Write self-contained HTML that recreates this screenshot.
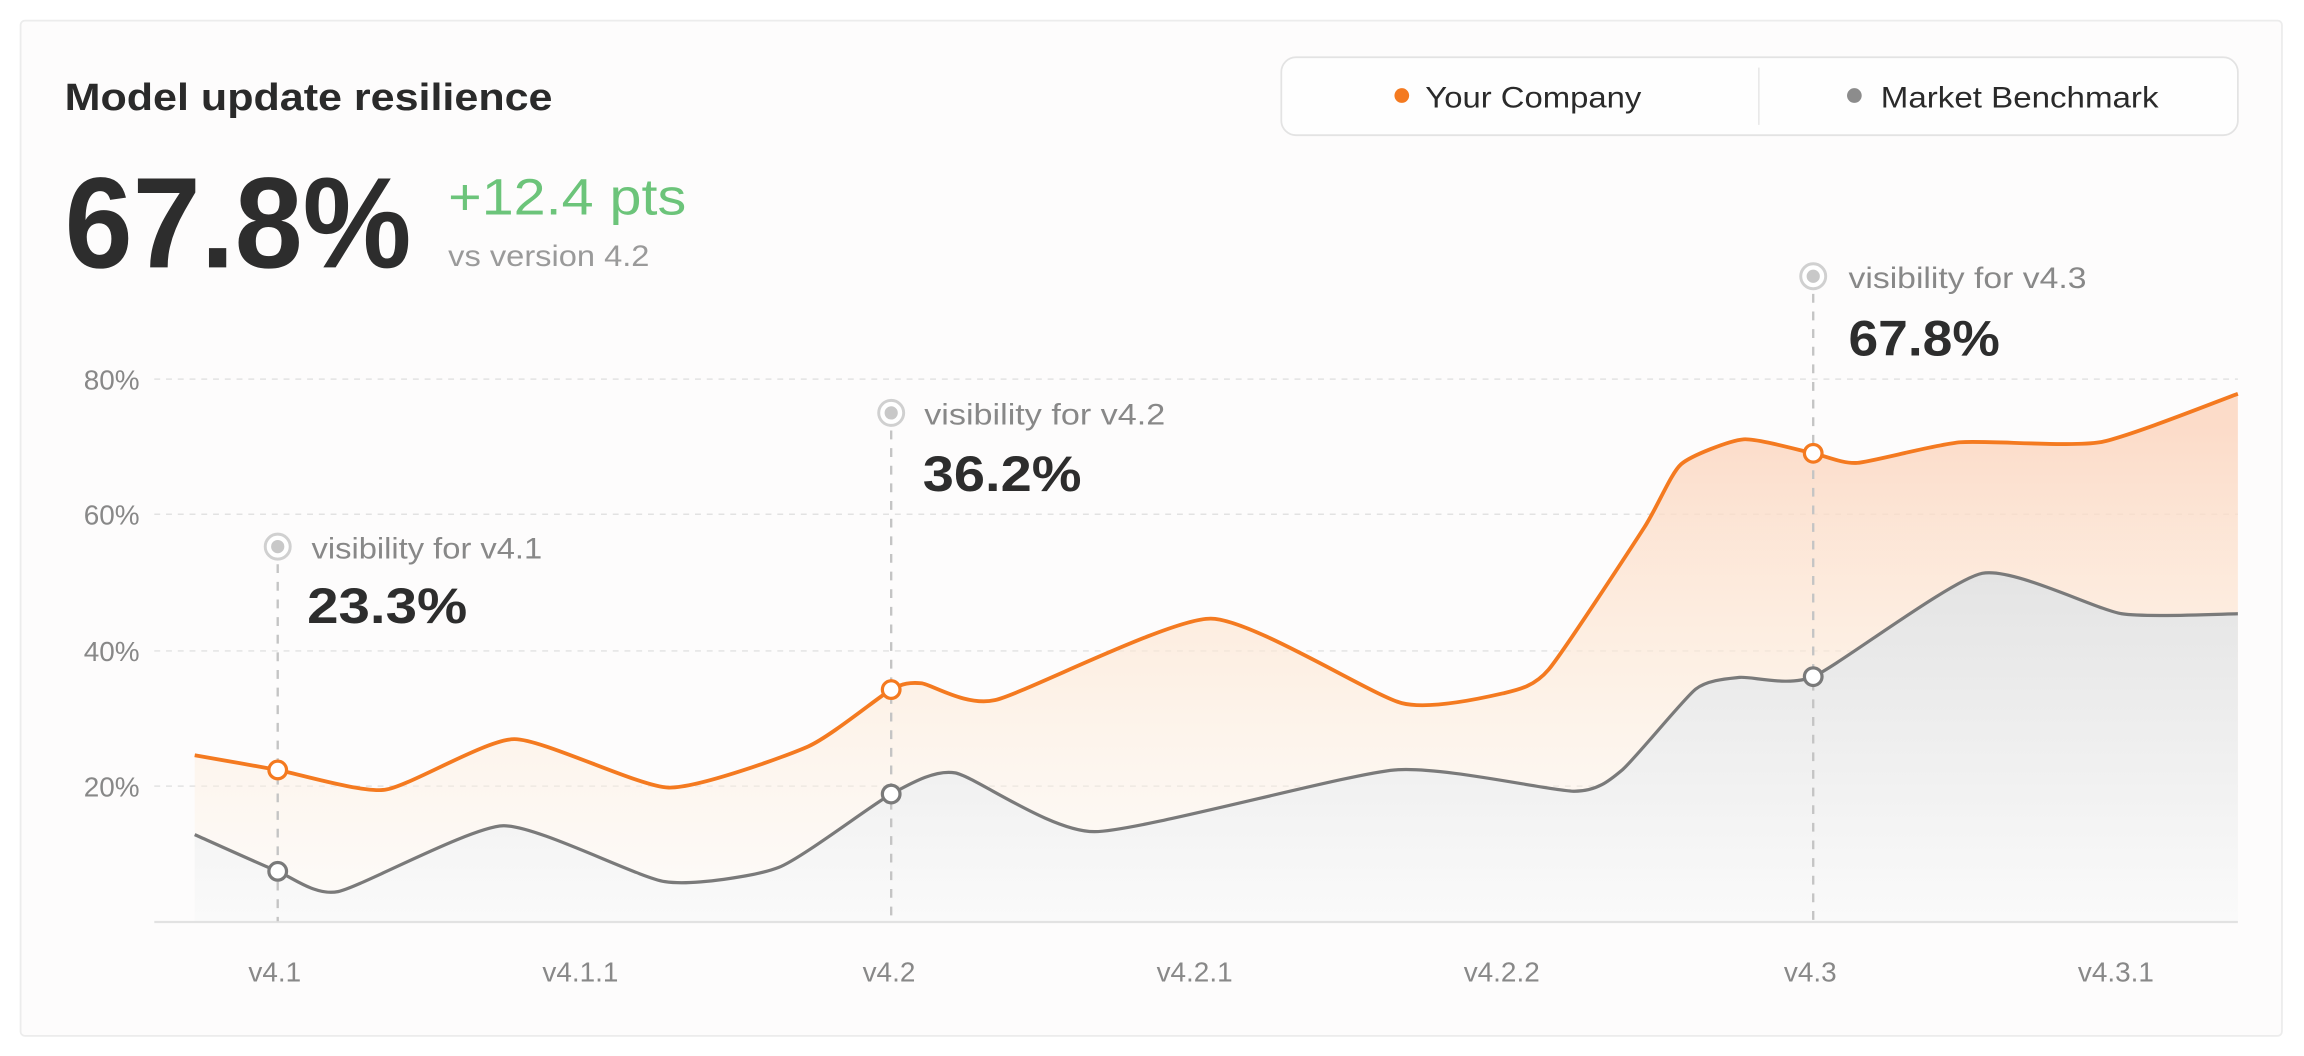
<!DOCTYPE html>
<html><head><meta charset="utf-8"><style>
html,body{margin:0;padding:0;background:#fff;width:2304px;height:1056px;overflow:hidden}
svg{display:block}
text{font-family:"Liberation Sans",sans-serif}
</style></head><body>
<svg id="s" width="2304" height="1056" viewBox="0 0 1568 718.67" xmlns="http://www.w3.org/2000/svg">
<defs>
<linearGradient id="go" x1="0" y1="290" x2="0" y2="627" gradientUnits="userSpaceOnUse">
<stop offset="0" stop-color="#fcd6c0" stop-opacity="0.85"/>
<stop offset="0.5" stop-color="#fde9d6" stop-opacity="0.6"/>
<stop offset="1" stop-color="#fdf8f0" stop-opacity="0.3"/>
</linearGradient>
<linearGradient id="gg" x1="0" y1="390" x2="0" y2="627" gradientUnits="userSpaceOnUse">
<stop offset="0" stop-color="#e4e4e4"/>
<stop offset="0.5" stop-color="#efefef"/>
<stop offset="1" stop-color="#fafafa"/>
</linearGradient>
</defs>
<rect x="0" y="0" width="1568" height="718.67" fill="#ffffff"/>
<rect x="14" y="14" width="1539" height="691" rx="3" fill="#fdfcfc" stroke="#ececec" stroke-width="1.2"/>

<text x="44" y="75" font-size="26" font-weight="bold" fill="#2a2a2a" textLength="332" lengthAdjust="spacingAndGlyphs">Model update resilience</text>
<text x="44" y="182" font-size="88" font-weight="bold" fill="#2d2d2d" textLength="236" lengthAdjust="spacingAndGlyphs">67.8%</text>
<text x="305" y="146" font-size="35" fill="#6cc47a" textLength="162" lengthAdjust="spacingAndGlyphs">+12.4 pts</text>
<text x="305" y="181" font-size="20" fill="#9a9a9a" textLength="137" lengthAdjust="spacingAndGlyphs">vs version 4.2</text>

<rect x="872" y="39" width="651" height="53" rx="10" fill="#fefefe" stroke="#e3e3e3" stroke-width="1.2"/>
<line x1="1197" y1="46" x2="1197" y2="85" stroke="#e6e6e6" stroke-width="1"/>
<circle cx="954" cy="65" r="5" fill="#f47a20"/>
<text x="970" y="73" font-size="20" fill="#2a2a2a" textLength="147" lengthAdjust="spacingAndGlyphs">Your Company</text>
<circle cx="1262" cy="65" r="5" fill="#8c8c8c"/>
<text x="1280" y="73" font-size="20" fill="#2a2a2a" textLength="189" lengthAdjust="spacingAndGlyphs">Market Benchmark</text>

<g stroke="#e2e2e2" stroke-width="1" stroke-dasharray="4,4">
<line x1="105" y1="258" x2="1523" y2="258"/>
<line x1="105" y1="350" x2="1523" y2="350"/>
<line x1="105" y1="443" x2="1523" y2="443"/>
<line x1="105" y1="535" x2="1523" y2="535"/>
</g>
<g font-size="19" fill="#888" text-anchor="end">
<text x="95" y="265">80%</text>
<text x="95" y="357">60%</text>
<text x="95" y="450">40%</text>
<text x="95" y="542">20%</text>
</g>

<path id="ofill" fill="url(#go)"/>
<path id="gfill" fill="url(#gg)"/>
<line x1="105" y1="627.5" x2="1523" y2="627.5" stroke="#e2e2e2" stroke-width="1.5"/>

<g stroke="#c4c4c4" stroke-width="1.6" stroke-dasharray="6,6">
<line x1="189" y1="384" x2="189" y2="627"/>
<line x1="606.5" y1="293" x2="606.5" y2="627"/>
<line x1="1234" y1="200" x2="1234" y2="627"/>
</g>

<path id="oline" fill="none" stroke="#f47a20" stroke-width="2.6" stroke-linejoin="round"/>
<path id="gline" fill="none" stroke="#7a7a7a" stroke-width="2.2" stroke-linejoin="round"/>

<g fill="#fff" stroke-width="2.2">
<circle cx="189" cy="524" r="6" stroke="#f47a20"/>
<circle cx="606.5" cy="469.3" r="6" stroke="#f47a20"/>
<circle cx="1234" cy="308.5" r="6" stroke="#f47a20"/>
<circle cx="189" cy="593" r="6" stroke="#7a7a7a"/>
<circle cx="606.5" cy="540.4" r="6" stroke="#7a7a7a"/>
<circle cx="1234" cy="460.5" r="6" stroke="#7a7a7a"/>
</g>

<g>
<circle cx="189" cy="372" r="8.5" fill="#fff" stroke="#d0d0d0" stroke-width="2"/>
<circle cx="189" cy="372" r="4.5" fill="#c8c8c8"/>
<circle cx="606.5" cy="281" r="8.5" fill="#fff" stroke="#d0d0d0" stroke-width="2"/>
<circle cx="606.5" cy="281" r="4.5" fill="#c8c8c8"/>
<circle cx="1234" cy="188" r="8.5" fill="#fff" stroke="#d0d0d0" stroke-width="2"/>
<circle cx="1234" cy="188" r="4.5" fill="#c8c8c8"/>
</g>
<g font-size="20" fill="#888">
<text x="212" y="380" textLength="157" lengthAdjust="spacingAndGlyphs">visibility for v4.1</text>
<text x="629" y="289" textLength="164" lengthAdjust="spacingAndGlyphs">visibility for v4.2</text>
<text x="1258" y="196" textLength="162" lengthAdjust="spacingAndGlyphs">visibility for v4.3</text>
</g>
<g font-size="34" font-weight="bold" fill="#2d2d2d">
<text x="209" y="424" textLength="109" lengthAdjust="spacingAndGlyphs">23.3%</text>
<text x="628" y="334" textLength="108" lengthAdjust="spacingAndGlyphs">36.2%</text>
<text x="1258" y="242" textLength="103" lengthAdjust="spacingAndGlyphs">67.8%</text>
</g>

<g font-size="19" fill="#888" text-anchor="middle">
<text x="187" y="668">v4.1</text>
<text x="395" y="668">v4.1.1</text>
<text x="605" y="668">v4.2</text>
<text x="813" y="668">v4.2.1</text>
<text x="1022" y="668">v4.2.2</text>
<text x="1232" y="668">v4.3</text>
<text x="1440" y="668">v4.3.1</text>
</g>
</svg>
<script>
var O=[[132.5,514],[189,524],[262,537.5],[350,503],[455,536],[550,508],[606.5,469.3],[627,465],[677,476.5],[824,421],[954,478.5],[1024,471.6],[1054,455.6],[1119,359],[1144,316],[1186.5,299],[1234,308.5],[1264,315],[1334,301],[1429,301],[1523,268]];
var G=[[132.5,568],[189,593],[230,606.8],[342.5,562],[452.5,600],[530,590.3],[606.5,540.4],[650,526],[745,566],[949,524],[1071.5,538.5],[1104,524],[1154,469],[1184,461],[1234,460.5],[1349,390.2],[1444,417.7],[1523,417.7]];
function cr(p){var d="M"+p[0][0]+","+p[0][1];var t=0.2;
for(var i=0;i<p.length-1;i++){var p0=p[i-1]||p[i],p1=p[i],p2=p[i+1],p3=p[i+2]||p2;
var c1x=p1[0]+(p2[0]-p0[0])*t/2,c1y=p1[1]+(p2[1]-p0[1])*t/2;
var c2x=p2[0]-(p3[0]-p1[0])*t/2,c2y=p2[1]-(p3[1]-p1[1])*t/2;
d+=" C"+c1x+","+c1y+" "+c2x+","+c2y+" "+p2[0]+","+p2[1];}return d;}
var o=cr(O),g=cr(G);
document.getElementById("oline").setAttribute("d",o);
document.getElementById("gline").setAttribute("d",g);
document.getElementById("ofill").setAttribute("d",o+" L1523,627 L132.5,627 Z");
document.getElementById("gfill").setAttribute("d",g+" L1523,627 L132.5,627 Z");
</script>
</body></html>
